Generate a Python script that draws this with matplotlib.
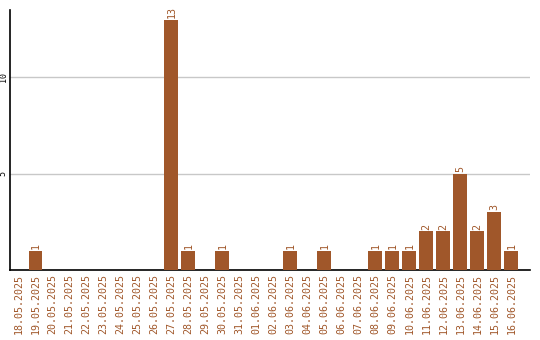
import matplotlib
matplotlib.use("Agg")
import matplotlib.pyplot as plt

dates = ["18.05.2025", "19.05.2025", "20.05.2025", "21.05.2025", "22.05.2025",
         "23.05.2025", "24.05.2025", "25.05.2025", "26.05.2025", "27.05.2025",
         "28.05.2025", "29.05.2025", "30.05.2025", "31.05.2025", "01.06.2025",
         "02.06.2025", "03.06.2025", "04.06.2025", "05.06.2025", "06.06.2025",
         "07.06.2025", "08.06.2025", "09.06.2025", "10.06.2025", "11.06.2025",
         "12.06.2025", "13.06.2025", "14.06.2025", "15.06.2025", "16.06.2025"]
counts = [0, 1, 0, 0, 0, 0, 0, 0, 0, 13,
          1, 0, 1, 0, 0, 0, 1, 0, 1, 0,
          0, 1, 1, 1, 2, 2, 5, 2, 3, 1]
yticks = [5, 10]

BROWN = "#a0572a"
FONT = "DejaVu Sans Mono"

fig = plt.figure(figsize=(5.4, 3.4), dpi=100)
ax = fig.add_axes([10 / 540, 1 - 270 / 340, 520 / 540, 260 / 340])

x = list(range(len(dates)))
ax.bar(x, counts, width=0.82, color=BROWN, zorder=3)

for xi, v in zip(x, counts):
    if v > 0:
        ax.text(xi, v + 0.1, str(v), rotation=90, ha="center", va="bottom",
                color=BROWN, fontsize=7.2, family=FONT)

ax.set_xlim(-0.5, 30.1)
ax.set_ylim(0, 13.5)
ax.set_xticks(x)
ax.set_xticklabels(dates, rotation=90, color=BROWN, fontsize=7.2, family=FONT)
ax.tick_params(axis="x", length=0, pad=3)
ax.set_yticks(yticks)
ax.set_yticklabels([str(t) for t in yticks], rotation=90, va="center",
                   ha="center", fontsize=6, family=FONT)
ax.tick_params(axis="y", length=0, pad=5)
ax.yaxis.grid(True, color="#c8c8c8", linewidth=1, zorder=0)
ax.spines["top"].set_visible(False)
ax.spines["right"].set_visible(False)
ax.spines["left"].set_linewidth(1.2)
ax.spines["bottom"].set_linewidth(1.2)

fig.savefig("out.png", dpi=100)
